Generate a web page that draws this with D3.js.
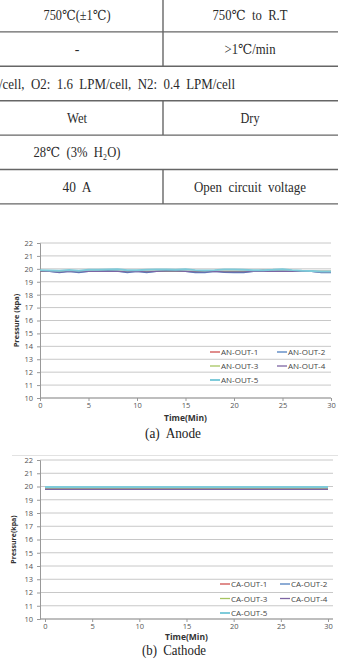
<!DOCTYPE html>
<html>
<head>
<meta charset="utf-8">
<script src="https://cdn.jsdelivr.net/npm/d3@7/dist/d3.min.js"></script>
<style>
  body { margin: 0; background: #fff; }
  svg { display: block; }
  .cell { font-family: 'Liberation Serif', 'DejaVu Serif', serif; font-size: 14px; fill: #2a2a2a; white-space: pre; }
  .tick text { font-family: 'Open Sans', 'DejaVu Sans', sans-serif; font-size: 7.5px; fill: #555; }
  .leg { font-family: 'Open Sans', 'DejaVu Sans', sans-serif; font-size: 8px; fill: #444; }
  .ttl { font-family: 'Open Sans', 'DejaVu Sans', sans-serif; font-weight: bold; fill: #333; }
  .cap { font-family: 'Liberation Serif', 'DejaVu Serif', serif; font-size: 15.5px; fill: #222; white-space: pre; }
</style>
</head>
<body>
<script>
'use strict'

// table rows (left cell, right cell); null right = merged row
const tableLeft = ['750℃(±1℃)', '-', '/cell,  O2:  1.6  LPM/cell,  N2:  0.4  LPM/cell', 'Wet', '28℃  (3%  H₂O)', '40  A']
const tableRight = ['750℃  to  R.T', '>1℃/min', null, 'Dry', null, 'Open  circuit  voltage']
const leftWidths = [67, 0, 236, 20, 87, 29]
const rightWidths = [75, 51, 0, 19, 0, 112]

// time axis
const minutes = [0,1,2,3,4,5,6,7,8,9,10,11,12,13,14,15,16,17,18,19,20,21,22,23,24,25,26,27,28,29,30]
const minutesCa = [0,5,10,15,20,25,30]
const yTicks = [10,11,12,13,14,15,16,17,18,19,20,21,22]
const xTicks = [0,5,10,15,20,25,30]

// anode outlet pressures (kPa)
const an1 = [19.8,19.8,19.8,19.8,19.8,19.8,19.8,19.8,19.8,19.8,19.8,19.8,19.8,19.8,19.8,19.8,19.8,19.8,19.8,19.8,19.8,19.8,19.82,19.9,19.82,19.8,19.8,19.8,19.8,19.8,19.8]
const an2 = [19.85,19.8,19.7,19.8,19.7,19.8,19.82,19.85,19.82,19.7,19.8,19.7,19.8,19.85,19.85,19.8,19.7,19.7,19.8,19.72,19.7,19.7,19.8,19.82,19.82,19.82,19.8,19.8,19.8,19.7,19.7]
const an3 = [19.8,19.8,19.8,19.8,19.8,19.8,19.8,19.8,19.8,19.8,19.8,19.8,19.8,19.8,19.8,19.8,19.8,19.8,19.8,19.8,19.8,19.8,19.8,19.8,19.8,19.8,19.8,19.8,19.8,19.8,19.8]
const an4 = [19.82,19.8,19.75,19.8,19.76,19.8,19.8,19.82,19.8,19.76,19.8,19.76,19.8,19.82,19.82,19.8,19.76,19.76,19.8,19.76,19.76,19.76,19.8,19.8,19.8,19.8,19.8,19.8,19.8,19.75,19.75]
const an5 = [19.9,19.88,19.86,19.9,19.86,19.92,19.92,19.94,19.96,19.9,19.9,19.92,19.94,19.94,19.92,19.96,19.9,19.88,19.9,19.94,19.94,19.92,19.9,19.9,19.92,19.96,19.9,19.86,19.84,19.8,19.8]

// cathode outlet pressures (kPa)
const ca1 = [19.8,19.8,19.8,19.8,19.8,19.8,19.8]
const ca2 = [19.8,19.8,19.8,19.8,19.8,19.8,19.8]
const ca3 = [19.8,19.8,19.8,19.8,19.8,19.8,19.8]
const ca4 = [19.79,19.79,19.79,19.79,19.79,19.79,19.79]
const ca5 = [19.96,19.96,19.96,19.96,19.96,19.96,19.96]

const seriesColors = ['#D0504E', '#4F7FBF', '#A6C460', '#7D65A3', '#7ECBDA']

const W = 338, H = 662
const svg = d3.select('body').append('svg').attr('width', W).attr('height', H)

// ---- table ----
const rowH = 34.4, rowTop = -2.5, midX = 163
const table = svg.append('g')
const cellText = (x, y, t, w, anchor) => {
  const el = table.append('text').attr('class', 'cell').attr('x', x).attr('y', y)
    .attr('xml:space', 'preserve')
    .attr('text-anchor', anchor).text(t)
  if (w > 0) el.attr('textLength', w).attr('lengthAdjust', 'spacingAndGlyphs')
}
tableLeft.forEach((t, i) => {
  const y0 = rowTop + i * rowH
  const by = y0 + rowH / 2 + 5
  table.append('line').attr('x1', 0).attr('x2', W).attr('y1', y0 + rowH).attr('y2', y0 + rowH)
    .attr('stroke', '#666').attr('stroke-width', 1.4)
  if (tableRight[i] !== null) {
    table.append('line').attr('x1', midX).attr('x2', midX).attr('y1', y0).attr('y2', y0 + rowH)
      .attr('stroke', '#666').attr('stroke-width', 1.4)
    cellText(77, by, t, leftWidths[i], 'middle')
    cellText(250, by, tableRight[i], rightWidths[i], 'middle')
  } else if (i === 2) {
    cellText(-1, by, t, leftWidths[i], 'start')
  } else {
    cellText(77, by, t, leftWidths[i], 'middle')
  }
})

// ---- chart builder ----
const drawChart = (cfg) => {
  const g = svg.append('g')
  const x = d3.scaleLinear().domain([0, 30]).range(cfg.xr)
  const y = d3.scaleLinear().domain([10, 22]).range(cfg.yr)

  // gridlines
  g.append('g').selectAll('line').data(yTicks).enter().append('line')
    .attr('x1', cfg.axisX).attr('x2', cfg.gridEnd)
    .attr('y1', d => y(d)).attr('y2', d => y(d))
    .attr('stroke', '#C8C8C8').attr('stroke-width', 1)

  // y axis
  const ya = g.append('g').attr('transform', `translate(${cfg.axisX},0)`)
    .call(d3.axisLeft(y).tickValues(yTicks).tickSize(3).tickPadding(4))
  ya.select('.domain').attr('stroke', '#999')
  ya.selectAll('.tick line').attr('stroke', '#999')

  // x axis
  const xa = g.append('g').attr('transform', `translate(0,${cfg.yr[0]})`)
    .call(d3.axisBottom(x).tickValues(xTicks).tickSize(3).tickPadding(2))
  xa.select('.domain').attr('d', `M${cfg.axisX},0H${cfg.gridEnd}`).attr('stroke', '#999')
  xa.selectAll('.tick line').attr('stroke', '#999')

  // lines
  const line = d3.line().x(d => x(d[0])).y(d => y(d[1]))
  cfg.series.forEach((s, i) => {
    g.append('path')
      .datum(cfg.times.map((t, k) => [t, s[k]]))
      .attr('d', line)
      .attr('fill', 'none')
      .attr('stroke', seriesColors[i])
      .attr('stroke-width', i === 4 ? 2 : 1.3)
  })

  // legend
  const leg = g.append('g')
  cfg.names.forEach((n, i) => {
    const lx = cfg.legX + (i % 2) * cfg.legDx
    const ly = cfg.legY + Math.floor(i / 2) * cfg.legDy
    leg.append('line').attr('x1', lx).attr('x2', lx + 10).attr('y1', ly).attr('y2', ly)
      .attr('stroke', seriesColors[i]).attr('stroke-width', i === 4 ? 2 : 1.3)
    leg.append('text').attr('class', 'leg').attr('x', lx + 11).attr('y', ly + 3).text(n)
  })

  // titles
  g.append('text').attr('class', 'ttl').attr('font-size', cfg.yTitleSize)
    .attr('transform', `translate(${cfg.yTitleX},${(cfg.yr[0] + cfg.yr[1]) / 2}) rotate(-90)`)
    .attr('text-anchor', 'middle').text(cfg.yTitle)
  g.append('text').attr('class', 'ttl').attr('font-size', 8.5)
    .attr('x', (cfg.xr[0] + cfg.xr[1]) / 2).attr('y', cfg.xTitleY)
    .attr('text-anchor', 'middle').text('Time(Min)')
  svg.append('text').attr('class', 'cap').attr('x', cfg.capX).attr('y', cfg.capY)
    .attr('xml:space', 'preserve')
    .attr('text-anchor', 'middle')
    .attr('textLength', cfg.capW).attr('lengthAdjust', 'spacingAndGlyphs')
    .text(cfg.caption)
}

drawChart({
  xr: [40, 331], yr: [398, 243], axisX: 40, gridEnd: 331,
  times: minutes, series: [an1, an2, an3, an4, an5],
  names: ['AN-OUT-1', 'AN-OUT-2', 'AN-OUT-3', 'AN-OUT-4', 'AN-OUT-5'],
  legX: 210, legDx: 67, legY: 352, legDy: 14,
  yTitle: 'Pressure (kpa)', yTitleX: 19, yTitleSize: 7.5, xTitleY: 421,
  caption: '(a)  Anode', capY: 438, capX: 173, capW: 56
})

// cathode frame top border
svg.append('line').attr('x1', 12).attr('x2', W).attr('y1', 455.5).attr('y2', 455.5)
  .attr('stroke', '#E2E2E2').attr('stroke-width', 1)

drawChart({
  xr: [45, 328], yr: [619, 460], axisX: 40, gridEnd: 333,
  times: minutesCa, series: [ca1, ca2, ca3, ca4, ca5],
  names: ['CA-OUT-1', 'CA-OUT-2', 'CA-OUT-3', 'CA-OUT-4', 'CA-OUT-5'],
  legX: 220, legDx: 60, legY: 584, legDy: 14.5,
  yTitle: 'Pressure(kpa)', yTitleX: 16, yTitleSize: 7, xTitleY: 640,
  caption: '(b)  Cathode', capY: 655, capX: 174, capW: 64
})
</script>
</body>
</html>
